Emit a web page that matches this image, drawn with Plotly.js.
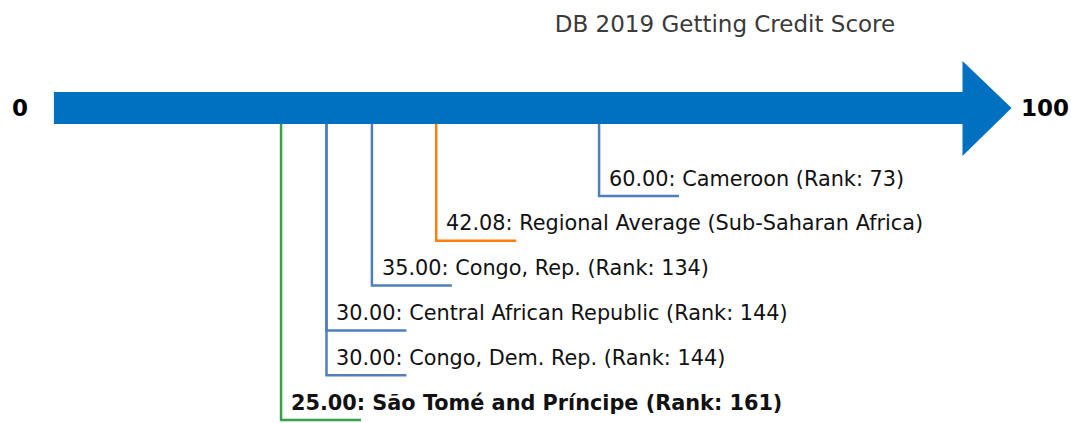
<!DOCTYPE html>
<html>
<head>
<meta charset="utf-8">
<script src="https://cdn.plot.ly/plotly-3.0.1.min.js"></script>
<style>html,body{margin:0;padding:0;background:#fff;}#chart{width:1071px;height:423px;}</style>
</head>
<body>
<div id="chart"></div>
<script>
const names = ["Cameroon (Rank: 73)", "Regional Average (Sub-Saharan Africa)", "Congo, Rep. (Rank: 134)", "Central African Republic (Rank: 144)", "Congo, Dem. Rep. (Rank: 144)", "São Tomé and Príncipe (Rank: 161)"];
const scores = [60.00, 42.08, 35.00, 30.00, 30.00, 25.00];
const colors = ["#4f7fbf", "#ff7f0e", "#4f7fbf", "#4f7fbf", "#4f7fbf", "#36a34a"];
const bold = [false, false, false, false, false, true];
const scaleMin = 0, scaleMax = 100;
const titleText = "DB 2019 Getting Credit Score";

// layout geometry (pixel-like y units, x in score units)
const pxPerUnit = 9.086, x0px = 53.9, W = 1071, H = 423;
const xr = [-x0px / pxPerUnit, (W - x0px) / pxPerUnit];
const arrowTop = 92, arrowBot = 124, headTop = 61, headBot = 156, headLen = 5.4;
const level0 = 196, levelStep = 44.8, tickLen = 8.8;

const traces = [];
const annotations = [];
scores.forEach((v, i) => {
  const yb = level0 + i * levelStep;
  traces.push({
    type: "scatter", mode: "lines", hoverinfo: "skip", showlegend: false,
    x: [v, v, v + tickLen], y: [arrowBot, yb, yb],
    line: {color: colors[i], width: 2.5}
  });
  const txt = v.toFixed(2) + ": " + names[i];
  annotations.push({
    x: v + 0.85, y: yb - 17.5, xref: "x", yref: "y", xanchor: "left", yanchor: "middle",
    text: bold[i] ? "<b>" + txt + "</b>" : txt, showarrow: false,
    font: {family: "DejaVu Sans", size: 20.8, color: "#111"}
  });
});
annotations.push({x: scaleMin, y: 108, xref: "x", yref: "y", xanchor: "right", yanchor: "middle",
  xshift: -24, text: "<b>" + scaleMin + "</b>", showarrow: false, font: {family: "DejaVu Sans", size: 23, color: "#000"}});
annotations.push({x: scaleMax + headLen, y: 108, xref: "x", yref: "y", xanchor: "left", yanchor: "middle",
  xshift: 7, text: "<b>" + scaleMax + "</b>", showarrow: false, font: {family: "DejaVu Sans", size: 23, color: "#000"}});

const mid = (arrowTop + arrowBot) / 2;
const arrowPath = `M ${scaleMin} ${arrowTop} L ${scaleMax} ${arrowTop} L ${scaleMax} ${headTop} L ${scaleMax + headLen} ${mid} L ${scaleMax} ${headBot} L ${scaleMax} ${arrowBot} L ${scaleMin} ${arrowBot} Z`;

const layout = {
  width: W, height: H,
  margin: {l: 0, r: 0, t: 0, b: 0},
  paper_bgcolor: "#fff", plot_bgcolor: "#fff",
  title: {text: titleText, font: {family: "DejaVu Sans", size: 23, color: "#3a3a3a"}, x: 725 / W, xanchor: "center", y: 1 - 24 / H, yanchor: "middle"},
  xaxis: {range: xr, visible: false, fixedrange: true},
  yaxis: {range: [H, 0], visible: false, fixedrange: true},
  shapes: [{type: "path", xref: "x", yref: "y", path: arrowPath, fillcolor: "#0070c0", line: {width: 0}, layer: "below"}],
  annotations: annotations
};
Plotly.newPlot("chart", traces, layout, {displayModeBar: false, staticPlot: true});
</script>
</body>
</html>
